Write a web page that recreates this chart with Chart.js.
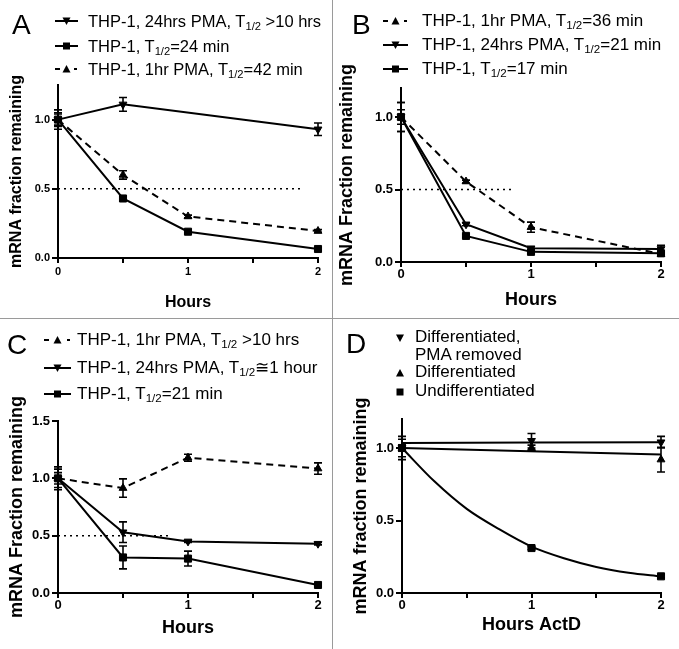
<!DOCTYPE html>
<html>
<head>
<meta charset="utf-8">
<script src="https://cdn.jsdelivr.net/npm/chart.js@4"></script>
<style>
body{margin:0;background:#fff;font-family:"Liberation Sans",Arial,sans-serif;color:#000;}
#fig{position:relative;width:679px;height:649px;overflow:hidden;}
.vline{position:absolute;left:332px;top:0;width:1px;height:649px;background:#9a9a9a;}
.hline{position:absolute;left:0;top:318px;width:679px;height:1px;background:#9a9a9a;}
.panel{position:absolute;}
.panel canvas{position:absolute;left:0;top:0;}
.letter{position:absolute;font-size:28px;line-height:28px;}
.txt{position:absolute;font-size:17px;line-height:20px;white-space:nowrap;}
.icon{position:absolute;}
sub{font-size:0.68em;line-height:0;vertical-align:-0.3em;}
</style>
</head>
<body>
<div id="fig">
  <div class="panel" id="pA" style="left:0;top:0;width:332px;height:318px"><canvas id="cA" width="332" height="318"></canvas></div>
  <div class="panel" id="pB" style="left:333px;top:0;width:346px;height:318px"><canvas id="cB" width="346" height="318"></canvas></div>
  <div class="panel" id="pC" style="left:0;top:319px;width:332px;height:330px"><canvas id="cC" width="332" height="330"></canvas></div>
  <div class="panel" id="pD" style="left:333px;top:319px;width:346px;height:330px"><canvas id="cD" width="346" height="330"></canvas></div>
  <div class="vline"></div>
  <div class="hline"></div>
</div>
<script>
// time points
const hoursABC = [0, 0.5, 1, 2];
const hoursD = [0, 1, 2];

// panel A
const labelsA = ['THP-1, 24hrs PMA, T<sub>1/2</sub> &gt;10 hrs', 'THP-1, T<sub>1/2</sub>=24 min', 'THP-1, 1hr PMA, T<sub>1/2</sub>=42 min'];
const a24hrs = [1.0, 1.11, null, 0.93];
const a24hrsErr = [0.07, 0.05, null, 0.045];
const aTHP = [1.0, 0.43, 0.19, 0.065];
const aTHPErr = [0.04, 0.015, 0.01, 0.01];
const a1hr = [1.0, 0.60, 0.30, 0.195];
const a1hrErr = [0.05, 0.03, 0.01, 0.01];
const halfA = [0, 1.87];

// panel B
const labelsB = ['THP-1, 1hr PMA, T<sub>1/2</sub>=36 min', 'THP-1, 24hrs PMA, T<sub>1/2</sub>=21 min', 'THP-1, T<sub>1/2</sub>=17 min'];
const b1hr = [1.0, 0.555, 0.24, 0.055];
const b1hrErr = [0.1, 0.01, 0.035, 0.01];
const b24hrs = [1.0, 0.26, 0.095, 0.09];
const b24hrsErr = [0.1, 0.01, 0.01, 0.025];
const bTHP = [1.0, 0.18, 0.07, 0.06];
const bTHPErr = [0.05, 0.01, 0.01, 0.01];
const halfB = [0, 0.86];

// panel C
const labelsC = ['THP-1, 1hr PMA, T<sub>1/2</sub> &gt;10 hrs', 'THP-1, 24hrs PMA, T<sub>1/2</sub>≅1 hour', 'THP-1, T<sub>1/2</sub>=21 min'];
const c1hr = [1.0, 0.915, 1.18, 1.085];
const c1hrErr = [0.08, 0.08, 0.03, 0.05];
const c24hrs = [1.0, 0.53, 0.45, 0.43];
const c24hrsErr = [0.1, 0.09, 0.01, 0.01];
const cTHP = [1.0, 0.31, 0.30, 0.07];
const cTHPErr = [0.05, 0.1, 0.065, 0.01];
const halfC = [0, 0.86];

// panel D
const labelsD = ['Differentiated,<br>PMA removed', 'Differentiated', 'Undifferentiated'];
const dRemoved = [1.0, 1.05, 1.04];
const dRemovedErr = [0.08, 0.05, 0.04];
const dDiff = [1.0, 1.0, 0.92];
const dDiffErr = [0.06, 0.02, 0.085];
const dUndiff = [1.0, 0.31, 0.115];
const dUndiffErr = [0.02, 0.01, 0.01];
const fitHoursD = [0, 0.25, 0.5, 0.75, 1, 1.25, 1.5, 1.75, 2];
const fitUndiff = [1.0, 0.77, 0.58, 0.44, 0.32, 0.24, 0.18, 0.14, 0.115];
const fitLineHours = [0, 2];
const fitRemoved = [1.035, 1.04];
const fitDiff = [1.0, 0.955];

const errorBars = {
  id: 'errorBars',
  afterDatasetsDraw(chart) {
    const {ctx} = chart;
    const xs = chart.scales.x, ys = chart.scales.y;
    ctx.save();
    ctx.strokeStyle = '#000';
    ctx.lineWidth = 1.6;
    chart.data.datasets.forEach(ds => {
      if (!ds.errors) return;
      ds.data.forEach((p, i) => {
        const e = ds.errors[i];
        if (p.y == null || !e) return;
        const px = xs.getPixelForValue(p.x);
        const t = ys.getPixelForValue(p.y + e), b = ys.getPixelForValue(p.y - e);
        ctx.beginPath();
        ctx.moveTo(px, t); ctx.lineTo(px, b);
        ctx.moveTo(px - 4, t); ctx.lineTo(px + 4, t);
        ctx.moveTo(px - 4, b); ctx.lineTo(px + 4, b);
        ctx.stroke();
      });
    });
    ctx.restore();
  }
};

function pts(xs, ys) { return xs.map((x, i) => ({x: x, y: ys[i]})); }

function series(xs, ys, errs, marker, dashed, showLine) {
  return {
    data: pts(xs, ys),
    errors: errs,
    borderColor: '#000',
    backgroundColor: '#000',
    borderWidth: 2,
    borderDash: dashed ? [7, 5] : [],
    showLine: showLine !== false,
    spanGaps: true,
    tension: 0,
    clip: false,
    pointStyle: marker === 'square' ? 'rect' : 'triangle',
    pointRotation: marker === 'down' ? 180 : 0,
    pointRadius: marker === 'square' ? 5 : 4.5,
    pointBorderWidth: 1
  };
}

function plainLine(xs, ys, dash, width) {
  return {
    data: pts(xs, ys),
    borderColor: '#000',
    borderWidth: width,
    borderDash: dash,
    pointRadius: 0,
    tension: 0,
    cubicInterpolationMode: 'monotone',
    clip: false
  };
}

function makeChart(id, p, datasets) {
  return new Chart(document.getElementById(id), {
    type: 'line',
    data: {datasets: datasets},
    options: {
      responsive: false,
      animation: false,
      events: [],
      layout: {padding: {left: 0, top: p.top, right: p.right, bottom: 0}},
      plugins: {legend: {display: false}, tooltip: {enabled: false}},
      scales: {
        x: {
          type: 'linear', min: 0, max: 2,
          afterFit(s) { s.height = p.bottom; },
          border: {color: '#000', width: 2},
          grid: {drawOnChartArea: false, color: '#000', tickLength: 5, lineWidth: 2},
          ticks: {
            stepSize: p.xStep, autoSkip: false, maxRotation: 0, color: '#000', padding: p.xTickPad,
            font: {family: 'Liberation Sans', weight: 'bold', size: p.tickSize},
            callback: v => Number.isInteger(v) ? String(v) : ''
          },
          title: {display: true, text: p.xTitle, color: '#000', padding: {top: 0, bottom: p.xTitlePad},
            font: {family: 'Liberation Sans', weight: 'bold', size: p.titleSize}}
        },
        y: {
          type: 'linear', min: 0, max: p.yMax,
          afterFit(s) { s.width = p.left; },
          border: {color: '#000', width: 2},
          grid: {drawOnChartArea: false, color: '#000', tickLength: 6, lineWidth: 2},
          ticks: {
            stepSize: 0.5, includeBounds: false, color: '#000', padding: 2,
            font: {family: 'Liberation Sans', weight: 'bold', size: p.tickSize},
            callback: v => Number(v).toFixed(1)
          },
          title: {display: true, text: p.yTitle, color: '#000', padding: {top: p.yTitlePad, bottom: 0},
            font: {family: 'Liberation Sans', weight: 'bold', size: p.titleSize}}
        }
      }
    },
    plugins: [errorBars]
  });
}

function iconSvg(kind, w) {
  const h = 14, cy = 7, cx = w / 2;
  let s = '<svg width="' + w + '" height="' + h + '" xmlns="http://www.w3.org/2000/svg">';
  if (kind.line === 'solid') s += '<line x1="0" x2="' + w + '" y1="' + cy + '" y2="' + cy + '" stroke="#000" stroke-width="2"/>';
  if (kind.line === 'dash') {
    s += '<line x1="0" x2="5" y1="' + cy + '" y2="' + cy + '" stroke="#000" stroke-width="2"/>';
    s += '<line x1="' + (w - 4) + '" x2="' + (w - 1) + '" y1="' + cy + '" y2="' + cy + '" stroke="#000" stroke-width="2"/>';
  }
  if (kind.m === 'up') s += '<polygon points="' + (cx - 4) + ',' + (cy + 3.5) + ' ' + (cx + 4) + ',' + (cy + 3.5) + ' ' + cx + ',' + (cy - 4) + '" fill="#000"/>';
  if (kind.m === 'down') s += '<polygon points="' + (cx - 4) + ',' + (cy - 3.5) + ' ' + (cx + 4) + ',' + (cy - 3.5) + ' ' + cx + ',' + (cy + 4) + '" fill="#000"/>';
  if (kind.m === 'square') s += '<rect x="' + (cx - 3.5) + '" y="' + (cy - 3.5) + '" width="7" height="7" fill="#000"/>';
  return s + '</svg>';
}

function legend(hostId, lg, labels) {
  const host = document.getElementById(hostId);
  const L = document.createElement('div');
  L.className = 'letter';
  L.textContent = lg.letter;
  L.style.left = lg.letterX + 'px';
  L.style.top = (lg.letterBase - 24) + 'px';
  host.appendChild(L);
  labels.forEach((lab, i) => {
    const ic = document.createElement('div');
    ic.className = 'icon';
    ic.innerHTML = iconSvg(lg.kinds[i], lg.iconW);
    ic.style.left = lg.iconX + 'px';
    ic.style.top = (lg.rows[i] - 7) + 'px';
    host.appendChild(ic);
    const t = document.createElement('div');
    t.className = 'txt';
    t.innerHTML = lab;
    t.style.left = lg.textX + 'px';
    t.style.top = (lg.rows[i] - 10) + 'px';
    if (lg.lineH) t.style.lineHeight = lg.lineH + 'px';
    if (lg.size) t.style.fontSize = lg.size + 'px';
    host.appendChild(t);
  });
}

const yTitleLower = 'mRNA fraction remaining';
const yTitleUpper = 'mRNA Fraction remaining';

makeChart('cA', {top: 85, right: 14, bottom: 60, left: 58, yMax: 1.25, xStep: 0.5, tickSize: 11, xTickPad: 2,
  titleSize: 16, xTitle: 'Hours', yTitle: yTitleLower, yTitlePad: 7, xTitlePad: 6}, [
  plainLine(halfA, [0.5, 0.5], [2, 4], 1.5),
  series(hoursABC, a24hrs, a24hrsErr, 'down', false),
  series(hoursABC, aTHP, aTHPErr, 'square', false),
  series(hoursABC, a1hr, a1hrErr, 'up', true)
]);

makeChart('cB', {top: 88, right: 18, bottom: 56, left: 68, yMax: 1.2, xStep: 0.5, tickSize: 13, xTickPad: 0,
  titleSize: 18, xTitle: 'Hours', yTitle: yTitleUpper, yTitlePad: 3, xTitlePad: 7}, [
  plainLine(halfB, [0.5, 0.5], [2, 4], 1.5),
  series(hoursABC, b1hr, b1hrErr, 'up', true),
  series(hoursABC, b24hrs, b24hrsErr, 'down', false),
  series(hoursABC, bTHP, bTHPErr, 'square', false)
]);

makeChart('cC', {top: 102, right: 14, bottom: 56, left: 58, yMax: 1.5, xStep: 0.5, tickSize: 13, xTickPad: 0,
  titleSize: 18, xTitle: 'Hours', yTitle: yTitleUpper, yTitlePad: 6, xTitlePad: 10}, [
  plainLine(halfC, [0.5, 0.5], [2, 4], 1.5),
  series(hoursABC, c1hr, c1hrErr, 'up', true),
  series(hoursABC, c24hrs, c24hrsErr, 'down', false),
  series(hoursABC, cTHP, cTHPErr, 'square', false)
]);

makeChart('cD', {top: 100, right: 18, bottom: 56, left: 69, yMax: 1.2, xStep: 0.5, tickSize: 13, xTickPad: 0,
  titleSize: 18, xTitle: 'Hours ActD', yTitle: yTitleLower, yTitlePad: 17, xTitlePad: 13}, [
  plainLine(fitLineHours, fitRemoved, [], 2),
  plainLine(fitLineHours, fitDiff, [], 2),
  plainLine(fitHoursD, fitUndiff, [], 2),
  series(hoursD, dRemoved, dRemovedErr, 'down', false, false),
  series(hoursD, dDiff, dDiffErr, 'up', false, false),
  series(hoursD, dUndiff, dUndiffErr, 'square', false, false)
]);

legend('pA', {letter: 'A', letterX: 12, letterBase: 35, iconX: 55, iconW: 23, textX: 88, size: 16.5, rows: [21, 46, 69],
  kinds: [{line: 'solid', m: 'down'}, {line: 'solid', m: 'square'}, {line: 'dash', m: 'up'}]}, labelsA);
legend('pB', {letter: 'B', letterX: 19, letterBase: 35, iconX: 50, iconW: 25, textX: 89, rows: [21, 45, 69],
  kinds: [{line: 'dash', m: 'up'}, {line: 'solid', m: 'down'}, {line: 'solid', m: 'square'}]}, labelsB);
legend('pC', {letter: 'C', letterX: 7, letterBase: 36, iconX: 44, iconW: 27, textX: 77, rows: [21, 49, 75],
  kinds: [{line: 'dash', m: 'up'}, {line: 'solid', m: 'down'}, {line: 'solid', m: 'square'}]}, labelsC);
legend('pD', {letter: 'D', letterX: 13, letterBase: 35, iconX: 62, iconW: 10, textX: 82, lineH: 18, rows: [19, 54, 73],
  kinds: [{m: 'down'}, {m: 'up'}, {m: 'square'}]}, labelsD);
</script>
</body>
</html>
